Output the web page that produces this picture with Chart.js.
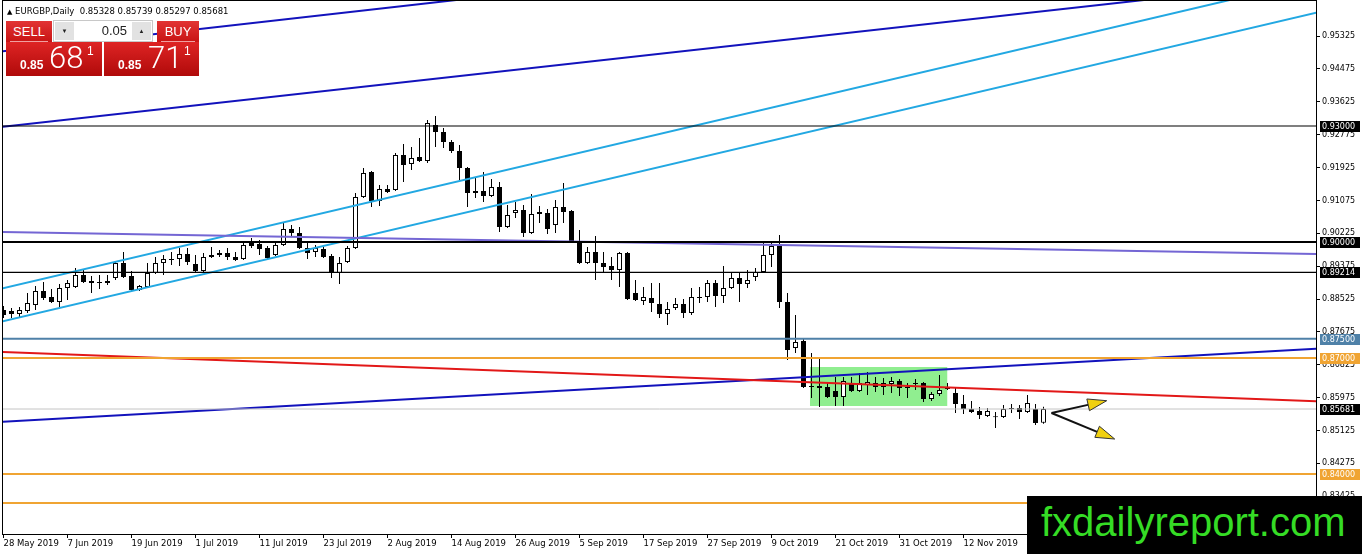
<!DOCTYPE html>
<html>
<head>
<meta charset="utf-8">
<title>EURGBP Daily</title>
<script src="https://cdn.jsdelivr.net/npm/chart.js@4.4.1/dist/chart.umd.min.js"></script>
<style>
  html, body { margin: 0; padding: 0; background: #fff; }
  #wrap { position: relative; width: 1362px; height: 554px; overflow: hidden; font-family: 'Liberation Sans', Arial, sans-serif; }
  #c { position: absolute; left: 0; top: 0; }
  #title { position: absolute; left: 7px; top: 5px; font: 8.5px/12px 'DejaVu Sans', sans-serif; color: #000; white-space: pre; }
  #title .tri { font-size: 7px; }
  .btn { position: absolute; top: 21px; height: 21px; background: linear-gradient(#e23434, #c81414); color: #fff;
         font: 13px/21px 'Liberation Sans Narrow', 'Liberation Sans', sans-serif; text-align: center; }
  .btn::after { content: ''; position: absolute; left: 4px; right: 4px; bottom: 0; height: 1px; background: #f0a0a0; }
  #sellBtn { left: 6px; width: 46px; }
  #buyBtn { left: 157px; width: 42px; }
  #lot { position: absolute; left: 53px; top: 20px; width: 100px; height: 22px; background: #fff; border: 1px solid #c8c8c8; box-sizing: border-box; }
  #lot .arr { position: absolute; top: 1px; width: 19px; height: 18px; background: #e2e2e2; font-size: 6px; line-height: 18px; text-align: center; color: #222; }
  #dn { left: 1px; }
  #up { right: 1px; }
  #lotVal { position: absolute; right: 25px; top: 0; font: 13px/20px 'Liberation Sans', sans-serif; color: #222; }
  .price { position: absolute; top: 42px; height: 34px; background: linear-gradient(#de2424, #b00a0a); color: #fff; }
  #sellPx { left: 6px; width: 96px; }
  #buyPx { left: 104px; width: 95px; }
  .price span { position: absolute; white-space: nowrap; }
  .small { top: 17px; font: bold 12px/12px 'Liberation Sans', sans-serif; }
  .big { top: 0; font: 300 31px/32px Roboto, 'Liberation Sans', sans-serif; }
  .sup { top: 3px; font: 12px/12px 'Liberation Sans', sans-serif; }
  #mark { position: absolute; left: 1027px; top: 496px; width: 335px; height: 58px; background: #000; }
  #markText { position: absolute; left: 1041px; top: 502px; font: 40px/40px 'Liberation Sans', Arial, sans-serif; color: #35dc25; white-space: nowrap; }
</style>
</head>
<body>
<div id="wrap">
  <canvas id="c" width="1362" height="554"></canvas>
  <div id="title"><span class="tri">▲</span> EURGBP,Daily  0.85328 0.85739 0.85297 0.85681</div>
  <div class="btn" id="sellBtn">SELL</div>
  <div id="lot"><div class="arr" id="dn">▼</div><div id="lotVal">0.05</div><div class="arr" id="up">▲</div></div>
  <div class="btn" id="buyBtn">BUY</div>
  <div class="price" id="sellPx"><span class="small" style="left:14px">0.85</span><span class="big" style="left:43px">68</span><span class="sup" style="left:81px">1</span></div>
  <div class="price" id="buyPx"><span class="small" style="left:14px">0.85</span><span class="big" style="left:44px">71</span><span class="sup" style="left:80px">1</span></div>
  <div id="mark"></div>
  <div id="markText">fxdailyreport.com</div>
</div>
<script>
// daily candles, bar 0 = 28 May 2019, bar 130 = 26 Nov 2019
const opens = [
  0.88241, 0.88215, 0.88138, 0.88215, 0.88371, 0.88733, 0.88578, 0.88448, 0.88810, 0.88836,
  0.89147, 0.88991, 0.88965, 0.88939, 0.89069, 0.89456, 0.89121, 0.88759, 0.88836, 0.89198,
  0.89456, 0.89534, 0.89560, 0.89689, 0.89431, 0.89250, 0.89612, 0.89715, 0.89715, 0.89612,
  0.89560, 0.89974, 0.89948, 0.89845, 0.89664, 0.89922, 0.90336, 0.90233, 0.89845, 0.89741,
  0.89819, 0.89638, 0.89198, 0.89482, 0.89845, 0.91164, 0.91810, 0.91060, 0.91370, 0.91345,
  0.92250, 0.92017, 0.92198, 0.92094, 0.93026, 0.92845, 0.92586, 0.92353, 0.91914, 0.91267,
  0.91319, 0.91190, 0.91422, 0.90388, 0.90750, 0.90827, 0.90233, 0.90776, 0.90750, 0.90440,
  0.90905, 0.90802, 0.89974, 0.89456, 0.89741, 0.89456, 0.89379, 0.89276, 0.89715, 0.88681,
  0.88474, 0.88552, 0.88397, 0.88138, 0.88293, 0.88397, 0.88164, 0.88552, 0.88578, 0.88939,
  0.88603, 0.88810, 0.89069, 0.88914, 0.89095, 0.89224, 0.89664, 0.89896, 0.88448, 0.87259,
  0.87440, 0.86276, 0.86276, 0.86250, 0.86147, 0.85991, 0.86353, 0.86147, 0.86302, 0.86353,
  0.86250, 0.86328, 0.86405, 0.86250, 0.86328, 0.86353, 0.85940, 0.86069, 0.86198, 0.86095,
  0.85810, 0.85681, 0.85630, 0.85500, 0.85474, 0.85474, 0.85681, 0.85707, 0.85604, 0.85681,
  0.85328
];
const highs = [
  0.88345, 0.88293, 0.88319, 0.88681, 0.88862, 0.88965, 0.88785, 0.88914, 0.89017, 0.89328,
  0.89276, 0.89121, 0.89147, 0.89147, 0.89482, 0.89741, 0.89250, 0.88888, 0.89456, 0.89612,
  0.89664, 0.89741, 0.89845, 0.89845, 0.89664, 0.89715, 0.89870, 0.89793, 0.89845, 0.89741,
  0.90000, 0.90103, 0.90052, 0.89896, 0.89974, 0.90491, 0.90440, 0.90388, 0.89974, 0.89922,
  0.89870, 0.89689, 0.89612, 0.89896, 0.91267, 0.91914, 0.91836, 0.91474, 0.91474, 0.92302,
  0.92534, 0.92457, 0.92690, 0.93155, 0.93258, 0.92948, 0.92638, 0.92508, 0.91939, 0.91681,
  0.91810, 0.91629, 0.91551, 0.90957, 0.91034, 0.90957, 0.91241, 0.90931, 0.90853, 0.91086,
  0.91526, 0.90827, 0.90310, 0.89870, 0.90155, 0.89741, 0.89612, 0.89741, 0.89741, 0.89017,
  0.88836, 0.88939, 0.88939, 0.88448, 0.88552, 0.88526, 0.88810, 0.88836, 0.89017, 0.89017,
  0.89379, 0.89224, 0.89198, 0.89276, 0.89328, 0.89974, 0.90000, 0.90181, 0.88681, 0.88112,
  0.87492, 0.87129, 0.87000, 0.86353, 0.86509, 0.86509, 0.86509, 0.86612, 0.86638, 0.86509,
  0.86483, 0.86509, 0.86457, 0.86353, 0.86457, 0.86379, 0.86121, 0.86560, 0.86353, 0.86224,
  0.86043, 0.85888, 0.85733, 0.85707, 0.85604, 0.85785, 0.85810, 0.85785, 0.86043, 0.85810,
  0.85739
];
const lows = [
  0.88034, 0.88034, 0.88060, 0.88164, 0.88241, 0.88500, 0.88422, 0.88319, 0.88500, 0.88810,
  0.88939, 0.88681, 0.88785, 0.88888, 0.89017, 0.89069, 0.88733, 0.88733, 0.88810, 0.89172,
  0.89147, 0.89405, 0.89379, 0.89405, 0.89224, 0.89198, 0.89586, 0.89612, 0.89534, 0.89508,
  0.89534, 0.89845, 0.89664, 0.89560, 0.89638, 0.89896, 0.90155, 0.89819, 0.89560, 0.89612,
  0.89586, 0.89069, 0.88914, 0.89456, 0.89819, 0.91138, 0.90905, 0.90931, 0.91267, 0.91319,
  0.91551, 0.91862, 0.92069, 0.92043, 0.92457, 0.92431, 0.92302, 0.91603, 0.90905, 0.91138,
  0.91034, 0.91164, 0.90259, 0.90362, 0.90621, 0.90129, 0.90207, 0.90491, 0.90207, 0.90233,
  0.90491, 0.89974, 0.89431, 0.89431, 0.89017, 0.89198, 0.89017, 0.88836, 0.88500, 0.88474,
  0.88371, 0.88190, 0.88034, 0.87854, 0.88241, 0.88034, 0.88112, 0.88422, 0.88448, 0.88319,
  0.88422, 0.88785, 0.88448, 0.88810, 0.88991, 0.89198, 0.89353, 0.88293, 0.86948, 0.87129,
  0.86224, 0.85965, 0.85733, 0.85965, 0.85759, 0.85759, 0.86121, 0.86121, 0.86043, 0.86121,
  0.86043, 0.86095, 0.86017, 0.85965, 0.86173, 0.85862, 0.85888, 0.86017, 0.86173, 0.85578,
  0.85552, 0.85578, 0.85423, 0.85474, 0.85190, 0.85448, 0.85578, 0.85423, 0.85578, 0.85267,
  0.85297
];
const closes = [
  0.88112, 0.88138, 0.88241, 0.88422, 0.88733, 0.88552, 0.88448, 0.88810, 0.88939, 0.89147,
  0.88965, 0.88939, 0.88939, 0.88991, 0.89456, 0.89095, 0.88759, 0.88862, 0.89198, 0.89456,
  0.89560, 0.89560, 0.89689, 0.89482, 0.89250, 0.89612, 0.89664, 0.89664, 0.89612, 0.89534,
  0.89922, 0.89896, 0.89819, 0.89586, 0.89922, 0.90336, 0.90233, 0.89845, 0.89715, 0.89845,
  0.89612, 0.89224, 0.89456, 0.89845, 0.91164, 0.91784, 0.91060, 0.91370, 0.91293, 0.92250,
  0.91991, 0.92172, 0.92094, 0.93077, 0.92845, 0.92586, 0.92353, 0.91914, 0.91267, 0.91319,
  0.91190, 0.91422, 0.90388, 0.90698, 0.90827, 0.90233, 0.90724, 0.90724, 0.90336, 0.90905,
  0.90776, 0.90000, 0.89456, 0.89741, 0.89456, 0.89353, 0.89276, 0.89715, 0.88526, 0.88500,
  0.88578, 0.88422, 0.88138, 0.88267, 0.88397, 0.88164, 0.88578, 0.88578, 0.88939, 0.88603,
  0.88810, 0.89069, 0.88914, 0.89017, 0.89224, 0.89664, 0.89896, 0.88448, 0.87207, 0.87414,
  0.86250, 0.86250, 0.86224, 0.85991, 0.85991, 0.86405, 0.86147, 0.86353, 0.86379, 0.86250,
  0.86353, 0.86405, 0.86224, 0.86224, 0.86335, 0.85940, 0.86069, 0.86173, 0.86250, 0.85810,
  0.85681, 0.85604, 0.85526, 0.85630, 0.85468, 0.85681, 0.85688, 0.85604, 0.85836, 0.85319,
  0.85681
];

// time axis labels every 8 bars
const tickBars = [0, 8, 16, 24, 32, 40, 48, 56, 64, 72, 80, 88, 96, 104, 112, 120, 128];
const tickLabels = ['28 May 2019', '7 Jun 2019', '19 Jun 2019', '1 Jul 2019', '11 Jul 2019', '23 Jul 2019',
  '2 Aug 2019', '14 Aug 2019', '26 Aug 2019', '5 Sep 2019', '17 Sep 2019', '27 Sep 2019',
  '9 Oct 2019', '21 Oct 2019', '31 Oct 2019', '12 Nov 2019', '22 Nov 2019'];
const priceTicks = [0.83425, 0.84275, 0.85125, 0.85975, 0.86825, 0.87675, 0.88525, 0.89375,
  0.90225, 0.91075, 0.91925, 0.92775, 0.93625, 0.94475, 0.95325];

// horizontal levels
const levels = [0.93, 0.90, 0.89214, 0.875, 0.87, 0.85681, 0.84, 0.8325];
const levelColors = ['#000000', '#000000', '#000000', '#4f81a8', '#f0a432', '#c4c4c4', '#f0a432', '#f0a432'];
const levelWidths = [1.2, 2, 1.2, 2, 2, 1, 2, 2];
const levelBoxColors = ['#000000', '#000000', '#000000', '#4f81a8', '#f0a432', '#000000', '#f0a432', '#f0a432'];

// trend lines: price at bar -1 and bar 166
const trendBars = [-1, 166];
const navyTop = [0.94911, 0.98816];
const navyUpper = [0.92961, 0.96796];
const navyLower = [0.85339, 0.87264];
const cyanUpper = [0.88756, 0.96876];
const cyanLower = [0.87903, 0.96023];
const purpleLine = [0.90261, 0.89682];
const redLine = [0.87160, 0.85867];

// green consolidation box
const boxBars = [100.8, 118];
const boxPrices = [0.85760, 0.86768];

// projection arrows [bar, price]
const arrowFrom = [[131.0, 0.85578], [131.0, 0.85578]];
const arrowTo = [[137.9, 0.85896], [138.9, 0.84905]];

const NAVY = '#1212bc';
const CYAN = '#22a8e2';

function trend(vals, color) {
  return {
    type: 'line',
    data: trendBars.map((b, i) => ({ x: b, y: vals[i] })),
    borderColor: color, borderWidth: 2, pointRadius: 0, tension: 0,
    fill: false, clip: 0, order: 1
  };
}

const datasets = [];

// box behind the candles
datasets.push({
  type: 'line',
  data: boxBars.map(b => ({ x: b, y: boxPrices[1] })),
  borderWidth: 0, pointRadius: 0,
  backgroundColor: '#90ee90',
  fill: { value: boxPrices[0] },
  clip: 0, order: 5
});

datasets.push({
  type: 'bar',
  data: lows.map((l, i) => ({ x: i, y: [l, highs[i]] })),
  backgroundColor: '#000', borderWidth: 0,
  grouped: false, maxBarThickness: 1, order: 3
});
datasets.push({
  type: 'bar',
  data: opens.map((o, i) => ({ x: i, y: [o, closes[i]] })),
  backgroundColor: opens.map((o, i) => closes[i] >= o ? '#ffffff' : '#000000'),
  borderColor: '#000', borderWidth: 1, borderSkipped: false,
  grouped: false, maxBarThickness: 5, minBarLength: 1, order: 2
});

levels.forEach((v, i) => {
  datasets.push({
    type: 'line',
    data: trendBars.map(b => ({ x: b, y: v })),
    borderColor: levelColors[i], borderWidth: levelWidths[i],
    pointRadius: 0, fill: false, clip: 0, order: 1
  });
});

datasets.push(trend(purpleLine, '#7466d4'));
datasets.push(trend(redLine, '#e21818'));
datasets.push(trend(navyTop, NAVY));
datasets.push(trend(navyUpper, NAVY));
datasets.push(trend(navyLower, NAVY));
datasets.push(trend(cyanUpper, CYAN));
datasets.push(trend(cyanLower, CYAN));

const framePlugin = {
  id: 'frame',
  afterDraw(chart) {
    const { ctx, chartArea: a } = chart;
    ctx.save();
    ctx.strokeStyle = '#000';
    ctx.lineWidth = 1;
    ctx.strokeRect(a.left - 0.5, a.top - 0.5, a.right - a.left + 1, a.bottom - a.top + 1);
    ctx.restore();
  }
};

const arrowPlugin = {
  id: 'arrows',
  afterDatasetsDraw(chart) {
    const { ctx, scales: { x, y } } = chart;
    ctx.save();
    arrowFrom.forEach((f, i) => {
      const x0 = x.getPixelForValue(f[0]), y0 = y.getPixelForValue(f[1]);
      const x1 = x.getPixelForValue(arrowTo[i][0]), y1 = y.getPixelForValue(arrowTo[i][1]);
      const ang = Math.atan2(y1 - y0, x1 - x0);
      const len = 19, half = 6;
      const bx = x1 - len * Math.cos(ang), by = y1 - len * Math.sin(ang);
      ctx.strokeStyle = '#111';
      ctx.lineWidth = 2;
      ctx.beginPath();
      ctx.moveTo(x0, y0);
      ctx.lineTo(bx + 2 * Math.cos(ang), by + 2 * Math.sin(ang));
      ctx.stroke();
      ctx.beginPath();
      ctx.moveTo(x1, y1);
      ctx.lineTo(bx + half * Math.sin(ang), by - half * Math.cos(ang));
      ctx.lineTo(bx - half * Math.sin(ang), by + half * Math.cos(ang));
      ctx.closePath();
      ctx.fillStyle = '#f0d010';
      ctx.fill();
      ctx.lineWidth = 1;
      ctx.strokeStyle = '#333';
      ctx.stroke();
    });
    ctx.restore();
  }
};

const levelBoxPlugin = {
  id: 'levelBoxes',
  afterDraw(chart) {
    const { ctx, chartArea: a, scales: { y } } = chart;
    ctx.save();
    ctx.font = '8px "DejaVu Sans", sans-serif';
    ctx.textBaseline = 'middle';
    levels.forEach((v, i) => {
      const py = Math.round(y.getPixelForValue(v));
      ctx.fillStyle = levelBoxColors[i];
      ctx.fillRect(a.right + 4, py - 5, 40, 11);
      ctx.fillStyle = '#fff';
      ctx.fillText(v.toFixed(5), a.right + 6, py + 0.5);
    });
    ctx.restore();
  }
};

new Chart(document.getElementById('c'), {
  type: 'bar',
  data: { datasets },
  options: {
    responsive: false,
    animation: false,
    devicePixelRatio: 1,
    layout: { padding: { left: 3, top: 1, right: 0, bottom: 0 } },
    plugins: { legend: { display: false }, tooltip: { enabled: false } },
    scales: {
      x: {
        type: 'linear',
        offset: false,
        min: -0.0625,
        max: 164.0625,
        afterFit(scale) {
          scale.height = 20;
          scale.paddingLeft = 0;
          scale.paddingRight = 0;
        },
        afterBuildTicks(scale) { scale.ticks = tickBars.map(v => ({ value: v })); },
        ticks: {
          autoSkip: false, maxRotation: 0, align: 'start', padding: 1, color: '#000',
          font: { family: 'DejaVu Sans', size: 8.5 },
          callback: v => tickLabels[tickBars.indexOf(v)]
        },
        grid: { offset: false, drawOnChartArea: false, tickLength: 4, color: '#000' },
        border: { display: true, color: '#000' }
      },
      y: {
        type: 'linear',
        position: 'right',
        stacked: false,
        min: 0.82449,
        max: 0.96232,
        afterFit(scale) {
          scale.width = 46;
          scale.paddingTop = 0;
          scale.paddingBottom = 0;
        },
        afterBuildTicks(scale) { scale.ticks = priceTicks.map(v => ({ value: v })); },
        ticks: {
          padding: 2, color: '#000',
          font: { family: 'DejaVu Sans', size: 8 },
          callback: v => v.toFixed(5)
        },
        grid: { drawOnChartArea: false, tickLength: 4, color: '#000' },
        border: { display: true, color: '#000' }
      }
    }
  },
  plugins: [framePlugin, arrowPlugin, levelBoxPlugin]
});
</script>
</body>
</html>
